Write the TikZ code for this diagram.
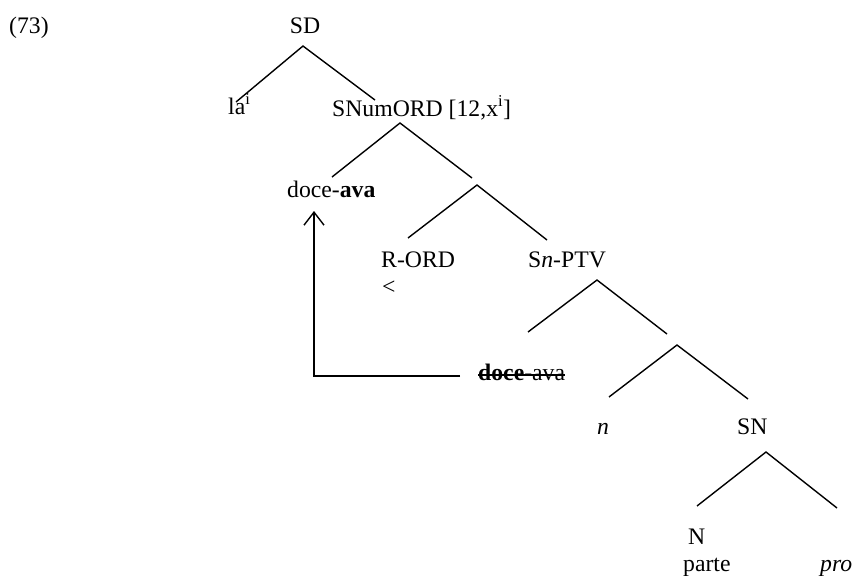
\documentclass[tikz,border=0pt]{standalone}
\usepackage{fontspec}
\setmainfont{Liberation Serif}
\usetikzlibrary{arrows.meta,calc}
\begin{document}
\begin{tikzpicture}[x=1pt,y=-1pt,
  lbl/.style={inner sep=0pt, anchor=base west, font=\fontsize{23.7}{28}\selectfont},
  lblc/.style={inner sep=0pt, anchor=base, font=\fontsize{23.7}{28}\selectfont},
  br/.style={line width=1.4pt},
  mv/.style={line width=1.4pt, -{Straight Barb[length=13pt,width=20pt,line width=1.4pt]}}]
\useasboundingbox (0,0) rectangle (855,576);
% labels
\node[lbl] (ex) at (9,33) {(73)};
\node[lblc] (sd) at (305,33) {SD};
\node[lbl] (la) at (228,114) {la\textsuperscript{i}};
\node[lbl] (snum) at (332,116) {SNumORD [12,x\textsuperscript{i}]};
\node[lbl] (doce) at (287,197) {doce-\textbf{ava}};
\node[lbl] (rord) at (381,267) {R-ORD};
\node[lbl] (lt) at (382,294) {<};
\node[lbl] (snptv) at (528,267) {S\textit{n}-PTV};
\node[lbl] (trace) at (478,380) {\textbf{doce}-ava};
\node[lbl] (n) at (597,434) {\textit{n}};
\node[lbl] (sn) at (737,434) {SN};
\node[lbl] (N) at (688,544) {N};
\node[lbl] (parte) at (683,571) {parte};
\node[lbl] (pro) at (820,571) {\textit{pro}};
% strike-through of the trace
\draw[line width=1.4pt] ($(trace.base west)+(0,-5)$) -- ($(trace.base east)+(0,-5)$);
% branch coordinates
\coordinate (a1) at (303,46);   \coordinate (a1l) at (236,102); \coordinate (a1r) at (375,100);
\coordinate (a2) at (400,123);  \coordinate (a2l) at (332,177); \coordinate (a2r) at (472,178);
\coordinate (a3) at (477,185);  \coordinate (a3l) at (408,238); \coordinate (a3r) at (547,240);
\coordinate (a4) at (597,280);  \coordinate (a4l) at (528,332); \coordinate (a4r) at (667,334);
\coordinate (a5) at (677,345);  \coordinate (a5l) at (609,397); \coordinate (a5r) at (748,399);
\coordinate (a6) at (766,452);  \coordinate (a6l) at (697,506); \coordinate (a6r) at (837,508);
\foreach \k in {1,...,6}{
  \draw[br] (a\k l) -- (a\k) -- (a\k r);
}
% movement arrow
\coordinate (mstart) at (460,376);
\coordinate (mcorner) at (314,376);
\coordinate (mend) at (314,211);
\draw[mv] (mstart) -- (mcorner) -- (mend);
\end{tikzpicture}
\end{document}
